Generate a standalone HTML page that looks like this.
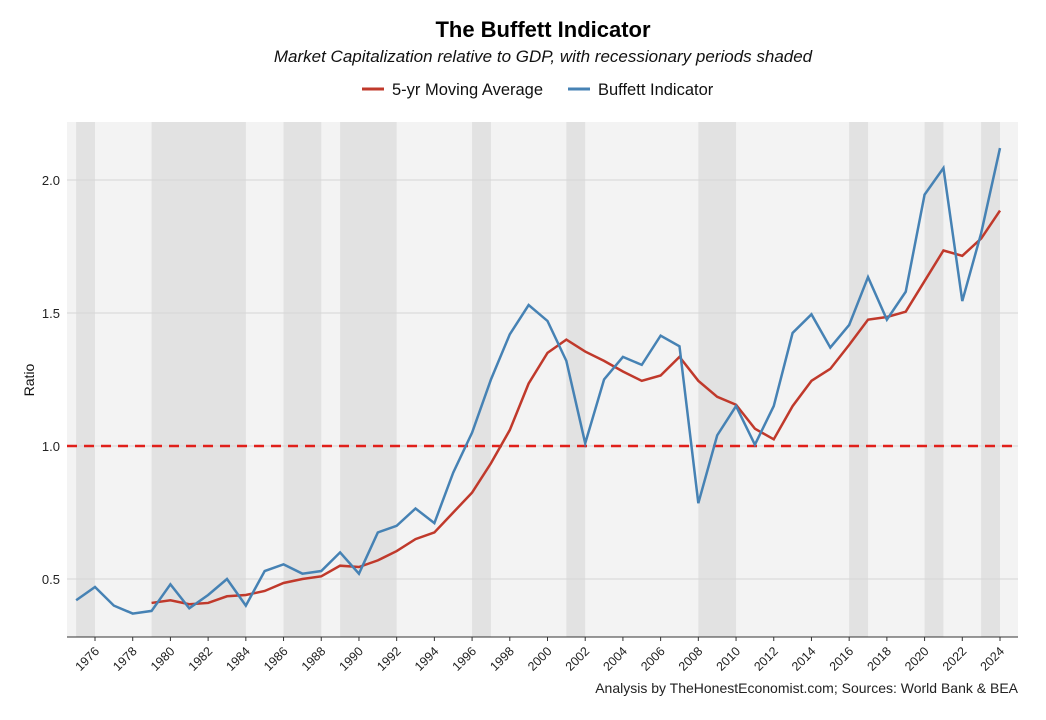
<!DOCTYPE html>
<html><head><meta charset="utf-8"><style>
body{margin:0;background:#fff;font-family:"Liberation Sans",Arial,sans-serif}
svg{display:block}
</style></head><body>
<svg id="chart" width="1046" height="720" viewBox="0 0 1046 720">
<text x="543" y="37" text-anchor="middle" font-size="22" font-weight="bold" fill="#000">The Buffett Indicator</text>
<text x="543" y="62" text-anchor="middle" font-size="17" font-style="italic" fill="#111">Market Capitalization relative to GDP, with recessionary periods shaded</text>
<g>
<g><line x1="362" y1="89" x2="384" y2="89" stroke="#c0392b" stroke-width="3"/><text x="392" y="95" font-size="16.5" fill="#111">5-yr Moving Average</text></g>
<g><line x1="568" y1="89" x2="590" y2="89" stroke="#4682b4" stroke-width="3"/><text x="598" y="95" font-size="16.5" fill="#111">Buffett Indicator</text></g>
</g>
<rect x="67" y="122" width="951" height="515" fill="#f3f3f3"/>
<g id="rec"></g>
<g id="grid"></g>
<g id="yt"></g>
<g id="xt"></g>
<line x1="67" y1="637" x2="1018" y2="637" stroke="#333" stroke-width="1"/>
<g id="series"></g>
<text transform="translate(34,380) rotate(-90)" text-anchor="middle" font-size="14" fill="#111">Ratio</text>
<text x="1018" y="693" text-anchor="end" font-size="14" fill="#222">Analysis by TheHonestEconomist.com; Sources: World Bank &amp; BEA</text>
</svg>
<script>
const years=[1975,1976,1977,1978,1979,1980,1981,1982,1983,1984,1985,1986,1987,1988,1989,1990,1991,1992,1993,1994,1995,1996,1997,1998,1999,2000,2001,2002,2003,2004,2005,2006,2007,2008,2009,2010,2011,2012,2013,2014,2015,2016,2017,2018,2019,2020,2021,2022,2023,2024];
const buffett=[0.42,0.47,0.40,0.37,0.38,0.48,0.39,0.44,0.50,0.40,0.53,0.555,0.52,0.53,0.60,0.52,0.675,0.70,0.765,0.71,0.90,1.05,1.25,1.42,1.53,1.47,1.32,1.01,1.25,1.335,1.305,1.415,1.375,0.785,1.04,1.15,1.005,1.15,1.425,1.495,1.37,1.455,1.635,1.475,1.58,1.945,2.045,1.545,1.80,2.12];
const maYears=years.slice(4);
const movingAvg=[0.41,0.42,0.405,0.41,0.435,0.44,0.455,0.485,0.50,0.51,0.55,0.545,0.57,0.605,0.65,0.675,0.75,0.825,0.935,1.06,1.235,1.35,1.40,1.355,1.32,1.28,1.245,1.265,1.335,1.245,1.185,1.155,1.065,1.025,1.15,1.245,1.29,1.38,1.475,1.485,1.505,1.62,1.735,1.715,1.78,1.885];
const recessions=[[1975,1976],[1979,1984],[1986,1988],[1989,1992],[1996,1997],[2001,2002],[2008,2010],[2016,2017],[2020,2021],[2023,2024]];
const yTicks=[0.5,1.0,1.5,2.0];
const xTicks=[1976,1978,1980,1982,1984,1986,1988,1990,1992,1994,1996,1998,2000,2002,2004,2006,2008,2010,2012,2014,2016,2018,2020,2022,2024];
const refLine=1.0;
const NS="http://www.w3.org/2000/svg";
const X=y=>95+(y-1976)*(1000-95)/48;
const Y=v=>446-(v-1)*266;
function mk(t,a,p){const e=document.createElementNS(NS,t);for(const k in a)e.setAttribute(k,a[k]);p.appendChild(e);return e;}
const rec=document.getElementById('rec');
recessions.forEach(r=>{const e=mk('rect',{x:X(r[0]),y:122,width:X(r[1])-X(r[0]),height:515,fill:'#e2e2e2'},rec);

});
const grid=document.getElementById('grid'),yt=document.getElementById('yt'),xt=document.getElementById('xt');
yTicks.forEach(v=>{const g=mk('line',{x1:67,x2:1018,y1:Y(v),y2:Y(v),stroke:'#d6d6d6','stroke-width':1},grid);


const t=mk('text',{x:60,y:Y(v)+5,'text-anchor':'end','font-size':13,fill:'#222'},yt);t.textContent=v.toFixed(1);

});
xTicks.forEach(y=>{mk('line',{x1:X(y),x2:X(y),y1:637,y2:641,stroke:'#333'},xt);
const t=mk('text',{transform:`translate(${X(y)+5},${652}) rotate(-45)`,'text-anchor':'end','font-size':12.5,fill:'#222'},xt);t.textContent=y;

});
const s=document.getElementById('series');
const ref=mk('line',{x1:67,x2:1018,y1:Y(refLine),y2:Y(refLine),stroke:'#e0201b','stroke-width':2.5,'stroke-dasharray':'10,7'},s);


const ma=mk('polyline',{points:maYears.map((y,i)=>X(y)+','+Y(movingAvg[i])).join(' '),fill:'none',stroke:'#c0392b','stroke-width':2.5},s);


const bl=mk('polyline',{points:years.map((y,i)=>X(y)+','+Y(buffett[i])).join(' '),fill:'none',stroke:'#4682b4','stroke-width':2.5},s);


</script>
</body></html>
